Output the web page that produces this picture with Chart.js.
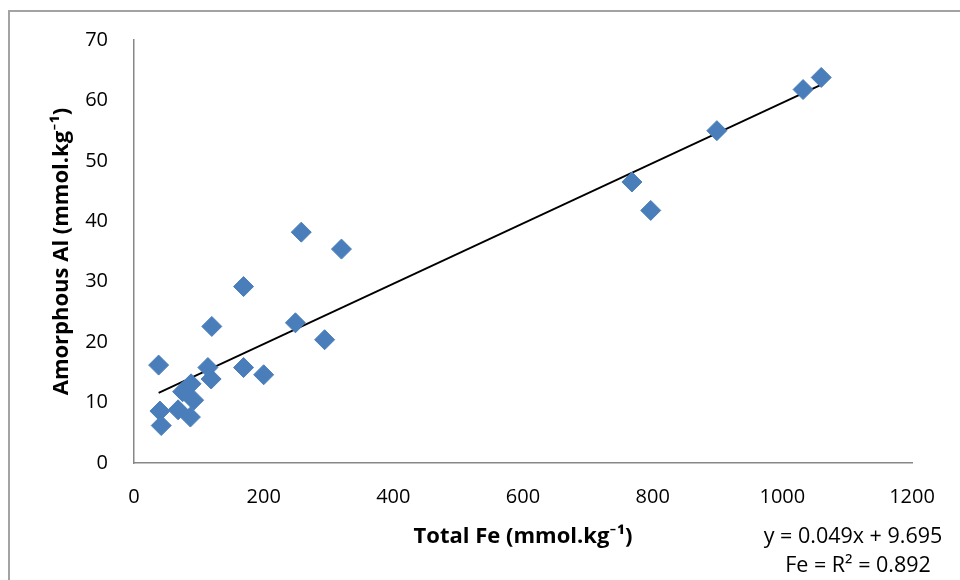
<!DOCTYPE html>
<html>
<head>
<meta charset="utf-8">
<script src="https://cdn.jsdelivr.net/npm/chart.js@4.4.1/dist/chart.umd.min.js"></script>
<style>
    body { margin: 0; background: #fff; }
    #wrap { position: relative; width: 960px; height: 580px; overflow: hidden; }
    #frame {
        position: absolute; left: 8px; top: 10px; width: 1000px; height: 620px;
        border: 2px solid #a3a3a3; box-sizing: border-box;
    }
    canvas { position: absolute; left: 0; top: 0; }
</style>
</head>
<body>
<div id="wrap">
    <div id="frame"></div>
    <canvas id="fe-al-chart" width="960" height="580"></canvas>
</div>
<script>
// Total Fe (mmol/kg) vs amorphous Al (mmol/kg)
const totalFe = [38, 40, 42, 68, 75, 87, 88, 92, 114, 119, 120, 169, 169, 200, 249, 258, 294, 320, 768, 797, 899, 1032, 1060];
const amorphousAl = [16.2, 8.6, 6.2, 8.8, 11.8, 7.6, 13.1, 10.4, 15.8, 13.9, 22.6, 15.8, 29.2, 14.6, 23.2, 38.2, 20.4, 35.4, 46.5, 41.8, 55.0, 61.8, 63.8];

// linear trend line, drawn between its end points
const trendX = [38, 1062];
const trendY = [11.6, 62.7];

const equationLines = ['y = 0.049x + 9.695', 'Fe = R\u00b2 = 0.892'];

const fontFamily = '"Open Sans", Lato, sans-serif';
const axisGrey = '#878787';

// equation box under the plot, bottom right
const equationText = {
    id: 'equationText',
    afterDraw(chart) {
        const ctx = chart.ctx;
        ctx.save();
        ctx.font = '21.5px ' + fontFamily;
        ctx.fillStyle = '#000';
        ctx.textAlign = 'center';
        ctx.textBaseline = 'middle';
        ctx.fillText(equationLines[0], 853, 537);
        ctx.fillText(equationLines[1], 858, 566);
        ctx.restore();
    }
};

const ctx = document.getElementById('fe-al-chart').getContext('2d');
new Chart(ctx, {
    type: 'scatter',
    data: {
        datasets: [
            {
                label: 'Amorphous Al',
                data: totalFe.map((x, i) => ({ x: x, y: amorphousAl[i] })),
                pointStyle: 'rectRot',
                pointRadius: 10,
                pointHoverRadius: 10,
                backgroundColor: '#4a7ebb',
                borderColor: '#4a7ebb',
                borderWidth: 1
            },
            {
                label: 'Trend',
                type: 'line',
                data: trendX.map((x, i) => ({ x: x, y: trendY[i] })),
                borderColor: '#000',
                borderWidth: 1.8,
                pointRadius: 0,
                fill: false
            }
        ]
    },
    options: {
        responsive: false,
        animation: false,
        layout: { padding: { left: 49, top: 40, right: 48, bottom: 30 } },
        plugins: {
            legend: { display: false },
            tooltip: { enabled: false }
        },
        scales: {
            x: {
                type: 'linear',
                min: 0,
                max: 1200,
                afterFit: s => { s.height = 87; },
                grid: { display: false, drawTicks: false },
                border: { color: axisGrey, width: 1.5 },
                ticks: {
                    stepSize: 200,
                    padding: 22,
                    color: '#000',
                    font: { family: fontFamily, size: 20 },
                    maxRotation: 0,
                    callback: v => String(v)
                },
                title: {
                    display: true,
                    text: 'Total Fe (mmol.kg\u207b\u00b9)',
                    color: '#000',
                    padding: 0,
                    font: { family: fontFamily, size: 22, weight: 'bold' }
                }
            },
            y: {
                min: 0,
                max: 70,
                afterFit: s => { s.width = 85; },
                grid: { display: false, drawTicks: false },
                border: { color: axisGrey, width: 1.5 },
                ticks: {
                    stepSize: 10,
                    padding: 26,
                    color: '#000',
                    font: { family: fontFamily, size: 20 },
                    callback: v => String(v)
                },
                title: {
                    display: true,
                    text: 'Amorphous Al (mmol.kg\u207b\u00b9)',
                    color: '#000',
                    padding: 0,
                    font: { family: fontFamily, size: 22, weight: 'bold' }
                }
            }
        }
    },
    plugins: [equationText]
});
</script>
</body>
</html>
